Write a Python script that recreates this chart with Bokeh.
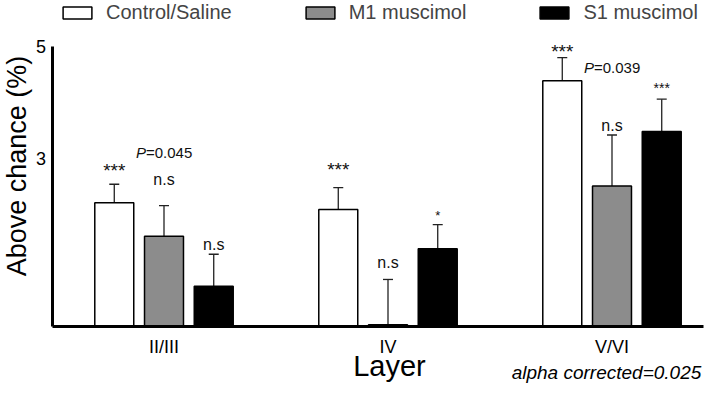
import math
from bokeh.plotting import figure
from bokeh.models import (Range1d, FixedTicker, ColumnDataSource, Whisker, TeeHead,
                          Legend, LegendItem, Label)
from bokeh.core.properties import value
from bokeh.embed import file_html
from bokeh.resources import INLINE

# ---------------- data ----------------
layers = ["II/III", "IV", "V/VI"]
series = ["Control/Saline", "M1 muscimol", "S1 muscimol"]
control = [2.21, 2.09, 4.39]
control_err = [0.33, 0.39, 0.41]
m1 = [1.61, 0.03, 2.51]
m1_err = [0.55, 0.81, 0.91]
s1 = [0.72, 1.39, 3.48]
s1_err = [0.57, 0.43, 0.58]
y_ticks = [3, 5]
y_bounds = (0, 5)

# significance marks: layer index, series index, text, baseline height (data units)
ann_layer = [0, 0, 0, 1, 1, 1, 2, 2, 2]
ann_series = [0, 1, 2, 0, 1, 2, 0, 1, 2]
ann_text = ["***", "n.s", "n.s", "***", "n.s", "*", "***", "n.s", "***"]
ann_y = [2.65, 2.52, 1.36, 2.67, 1.04, 1.89, 4.77, 3.48, 4.16]

# p-values: layer index, text, baseline height
p_layer = [0, 2]
p_text = ["=0.045", "=0.039"]
p_y = [3.0, 4.52]
note_text = "alpha corrected=0.025"
x_title = "Layer"
y_title = "Above chance (%)"

# ---------------- style / layout ----------------
FONT = "Liberation Sans"
W, H = 704, 384
PX_X = 224.0          # pixels per category step
PX_Y = 56.0           # pixels per y unit
AX_LEFT, AX_BOTTOM = 51.5, 326   # axis position in pixels from top-left
X0 = 0.5
X1 = X0 + (W - 1 - AX_LEFT) / PX_X
BASE_FIX = 0.39       # observed downward drift of the alphabetic baseline (em)

colors = ["white", "#8c8c8c", "black"]
offsets = [-0.222, 0.0, 0.222]
bar_w = 0.174
ann_px = [19, 16, 16, 19, 16, 13, 19, 16, 14]
P_PX = 15

x_start = X0 - AX_LEFT / PX_X
x_end = X0 + (W - AX_LEFT) / PX_X
y_start = -(H - AX_BOTTOM) / PX_Y
y_end = AX_BOTTOM / PX_Y

p = figure(width=W, height=H, x_range=Range1d(x_start, x_end),
           y_range=Range1d(y_start, y_end),
           output_backend="svg", toolbar_location=None, min_border=0)
p.outline_line_color = None
p.grid.visible = False
p.background_fill_color = "white"

vals = [control, m1, s1]
errs = [control_err, m1_err, s1_err]
renderers = []
for k in range(3):
    xs = [i + 1 + offsets[k] for i in range(len(layers))]
    src = ColumnDataSource(dict(x=xs, top=vals[k],
                                upper=[v + e for v, e in zip(vals[k], errs[k])]))
    r = p.vbar(x="x", top="top", bottom=0, width=bar_w, source=src,
               fill_color=colors[k], line_color="black", line_width=1.5)
    renderers.append(r)
    w = Whisker(base="x", lower="top", upper="upper", source=src, dimension="height",
                line_color="#222222", line_width=1.3, lower_head=None,
                upper_head=TeeHead(size=10, line_color="#222222", line_width=1.3))
    p.add_layout(w)

# axes (drawn at fixed data locations)
ya = p.yaxis[0]
ya.fixed_location = X0
ya.bounds = y_bounds
ya.ticker = FixedTicker(ticks=y_ticks)
ya.axis_line_width = 3
ya.axis_line_color = "black"
ya.major_tick_line_color = None
ya.minor_tick_line_color = None
ya.major_tick_out = 0
ya.major_tick_in = 0
ya.major_label_standoff = 6
ya.major_label_text_font = FONT
ya.major_label_text_font_size = "18px"
ya.major_label_text_color = "black"

xa = p.xaxis[0]
xa.fixed_location = 0
xa.bounds = (X0, X1)
xa.ticker = FixedTicker(ticks=[1, 2, 3])
xa.major_label_overrides = {i + 1: l for i, l in enumerate(layers)}
xa.axis_line_width = 3
xa.axis_line_color = "black"
xa.major_tick_line_color = None
xa.minor_tick_line_color = None
xa.major_tick_out = 0
xa.major_tick_in = 0
xa.major_label_standoff = 10
xa.major_label_text_font = FONT
xa.major_label_text_font_size = "18px"
xa.major_label_text_color = "black"

# titles
p.add_layout(Label(x=16, y=H - 165.5, x_units="screen", y_units="screen", angle=math.pi / 2,
                   text=y_title, text_align="center", text_baseline="middle",
                   text_font=FONT, text_font_size="27px", text_color="black"))
p.add_layout(Label(x=389, y=H - (377 - BASE_FIX * 29), x_units="screen", y_units="screen",
                   text=x_title, text_align="center", text_baseline="alphabetic",
                   text_font=FONT, text_font_size="29px", text_color="black"))

# significance marks
ann_src = ColumnDataSource(dict(
    x=[ann_layer[i] + 1 + offsets[ann_series[i]] for i in range(len(ann_text))],
    y=[ann_y[i] + BASE_FIX * ann_px[i] / PX_Y for i in range(len(ann_text))],
    text=ann_text, fs=["%dpx" % s for s in ann_px]))
p.text(x="x", y="y", text="text", source=ann_src, text_align="center",
       text_baseline="alphabetic", text_font=value(FONT), text_font_size="fs",
       text_color="#111111")

# p-values (italic P)
px = [l + 1 + offsets[1] for l in p_layer]
pv_src = ColumnDataSource(dict(x=px, y=[v + BASE_FIX * P_PX / PX_Y for v in p_y],
                               text=p_text, P=["P"] * len(p_text)))
p.text(x="x", y="y", text="P", source=pv_src, text_align="right", x_offset=-18,
       text_baseline="alphabetic", text_font=value(FONT), text_font_size="%dpx" % P_PX,
       text_font_style="italic", text_color="#111111")
p.text(x="x", y="y", text="text", source=pv_src, text_align="left", x_offset=-18,
       text_baseline="alphabetic", text_font=value(FONT), text_font_size="%dpx" % P_PX,
       text_color="#111111")

# alpha note
p.add_layout(Label(x=606, y=H - (379 - BASE_FIX * 19), x_units="screen", y_units="screen",
                   text=note_text, text_align="center", text_baseline="alphabetic",
                   text_font=FONT, text_font_size="19px", text_font_style="italic",
                   text_color="black"))

# legend
legend = Legend(items=[LegendItem(label=s, renderers=[r]) for s, r in zip(series, renderers)],
                orientation="horizontal", location=(59, H - 24), spacing=70,
                glyph_width=36, glyph_height=15, label_standoff=11,
                label_text_font=FONT, label_text_font_size="20px", label_height=15,
                padding=0, margin=0, border_line_color=None, background_fill_alpha=0)
p.add_layout(legend)

open("out.html", "w").write(file_html(p, INLINE))
